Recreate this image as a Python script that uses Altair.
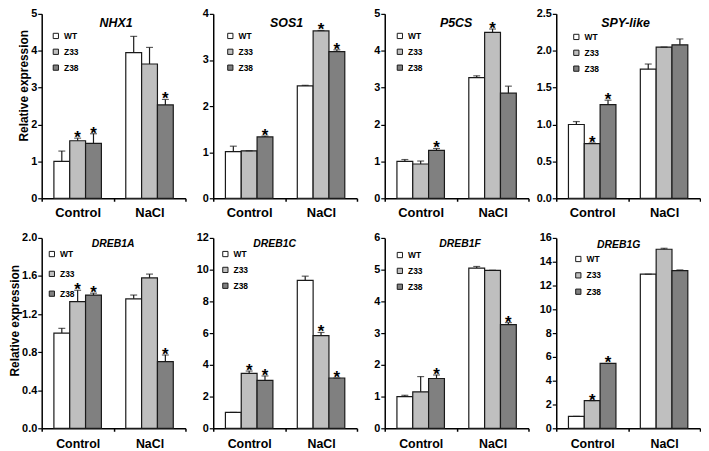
import altair as alt
import pandas as pd

FONT = "Liberation Sans"

conditions = ["Control", "NaCl"]
lines = ["WT", "Z33", "Z38"]
line_colors = ["#ffffff", "#bfbfbf", "#808080"]

# order: Control-WT, Control-Z33, Control-Z38, NaCl-WT, NaCl-Z33, NaCl-Z38
nhx1_mean = [1.00, 1.56, 1.49, 3.95, 3.64, 2.53]
nhx1_err = [0.28, 0.07, 0.26, 0.44, 0.45, 0.15]
nhx1_sig = [0, 1, 1, 0, 0, 1]
nhx1_ticks = [0, 1, 2, 3, 4, 5]

sos1_mean = [1.01, 1.03, 1.33, 2.44, 3.63, 3.18]
sos1_err = [0.12, 0.00, 0.02, 0.01, 0.01, 0.04]
sos1_sig = [0, 0, 1, 0, 1, 1]
sos1_ticks = [0, 1, 2, 3, 4]

p5cs_mean = [1.00, 0.93, 1.30, 3.27, 4.50, 2.85]
p5cs_err = [0.05, 0.08, 0.05, 0.05, 0.09, 0.19]
p5cs_sig = [0, 0, 1, 0, 1, 0]
p5cs_ticks = [0, 1, 2, 3, 4, 5]

spy_mean = [1.00, 0.74, 1.27, 1.75, 2.05, 2.08]
spy_err = [0.04, 0.01, 0.06, 0.07, 0.00, 0.08]
spy_sig = [0, 1, 1, 0, 0, 0]
spy_ticks = [0.0, 0.5, 1.0, 1.5, 2.0, 2.5]

dreb1a_mean = [1.00, 1.33, 1.40, 1.36, 1.58, 0.70]
dreb1a_err = [0.05, 0.12, 0.02, 0.04, 0.04, 0.07]
dreb1a_sig = [0, 1, 1, 0, 0, 1]
dreb1a_ticks = [0.0, 0.4, 0.8, 1.2, 1.6, 2.0]

dreb1c_mean = [1.00, 3.46, 3.02, 9.32, 5.84, 3.17]
dreb1c_err = [0.00, 0.15, 0.28, 0.27, 0.20, 0.00]
dreb1c_sig = [0, 1, 1, 0, 1, 1]
dreb1c_ticks = [0, 2, 4, 6, 8, 10, 12]

dreb1f_mean = [1.00, 1.15, 1.57, 5.05, 4.98, 3.27]
dreb1f_err = [0.04, 0.48, 0.11, 0.05, 0.00, 0.06]
dreb1f_sig = [0, 0, 1, 0, 0, 1]
dreb1f_ticks = [0, 1, 2, 3, 4, 5, 6]

dreb1g_mean = [1.00, 2.33, 5.45, 12.95, 15.05, 13.25]
dreb1g_err = [0.00, 0.00, 0.00, 0.00, 0.08, 0.06]
dreb1g_sig = [0, 1, 1, 0, 0, 0]
dreb1g_ticks = [0, 2, 4, 6, 8, 10, 12, 14, 16]

WIDTH = 145
ROW1_H = 186
ROW2_H = 192


def panel(gene, mean, err, sig, ticks, fmt, height, title_size, title_x, title_y,
          xlabel_size, xlabel_pad, leg_x, leg_y, leg_gap, ytitle=None, ytitle_y=0):
    df = pd.DataFrame({
        "condition": [c for c in conditions for _ in lines],
        "line": lines * 2,
        "mean": mean,
        "err": err,
        "sig": sig,
    })
    df["top"] = df["mean"] + df["err"]
    base = alt.Chart(df)

    x_enc = alt.X(
        "condition:N", sort=conditions,
        scale=alt.Scale(paddingInner=0, paddingOuter=0),
        axis=alt.Axis(title=None, labelAngle=0, tickBand="extent", tickSize=3,
                      labelPadding=xlabel_pad, labelFontSize=xlabel_size,
                      labelFontWeight="bold", labelFont=FONT, labelColor="black",
                      domainColor="black", tickColor="black", domainWidth=1.5,
                      tickWidth=1.5),
    )
    xo = alt.XOffset("line:N", sort=lines,
                     scale=alt.Scale(paddingInner=0, paddingOuter=0.77))
    y_kwargs = dict(values=ticks, format=fmt, tickSize=4, labelPadding=1,
                    labelFontSize=11, labelFontWeight="bold", labelFont=FONT,
                    labelColor="black", domainColor="black", tickColor="black",
                    domainWidth=1.5, tickWidth=1.2, grid=False)
    if ytitle:
        y_kwargs.update(title=ytitle, titleFont=FONT, titleFontSize=12,
                        titleFontWeight="bold", titleColor="black", titlePadding=0,
                        titleY=ytitle_y)
    else:
        y_kwargs.update(title=None)
    yscale = alt.Scale(domain=[ticks[0], ticks[-1]], nice=False)
    yaxis = alt.Axis(**y_kwargs)

    bars = base.mark_bar(stroke="#1a1a1a", strokeWidth=1.2).encode(
        x=x_enc, xOffset=xo,
        y=alt.Y("mean:Q", scale=yscale, axis=yaxis),
        fill=alt.Fill("line:N", sort=lines,
                      scale=alt.Scale(domain=lines, range=line_colors),
                      legend=alt.Legend(title=None, orient="none", legendX=leg_x,
                                        legendY=leg_y, symbolType="square",
                                        symbolSize=28, symbolStrokeColor="#1a1a1a",
                                        symbolStrokeWidth=1, labelFont=FONT,
                                        labelFontSize=8.5, labelFontWeight="bold",
                                        labelColor="black", rowPadding=leg_gap,
                                        labelOffset=4, padding=0)),
    )
    rule = base.mark_rule(color="#1a1a1a", strokeWidth=1.2).encode(
        x=x_enc, xOffset=xo,
        y=alt.Y("mean:Q", scale=yscale, axis=yaxis), y2="top:Q")
    cap = base.mark_tick(color="#1a1a1a", size=7, thickness=1.2).encode(
        x=x_enc, xOffset=xo, y=alt.Y("top:Q", scale=yscale, axis=yaxis))
    stars = base.transform_filter("datum.sig == 1").mark_text(
        text="*", font=FONT, fontSize=17, fontWeight="bold", color="black",
        baseline="alphabetic", dy=5).encode(
        x=x_enc, xOffset=xo, y=alt.Y("top:Q", scale=yscale, axis=yaxis))

    name = alt.Chart(pd.DataFrame({"gene": [gene]})).mark_text(
        font=FONT, fontStyle="italic", fontWeight="bold", fontSize=title_size,
        color="black", align="center", baseline="alphabetic").encode(
        text="gene:N", x=alt.value(title_x), y=alt.value(title_y))

    return alt.layer(bars, rule, cap, stars, name).properties(
        width=WIDTH, height=height)


panels = [
    panel("NHX1", nhx1_mean, nhx1_err, nhx1_sig, nhx1_ticks, "d", ROW1_H, 12.5, 75, 13,
          13, 5, 10, 18, 6, "Relative expression", 72),
    panel("SOS1", sos1_mean, sos1_err, sos1_sig, sos1_ticks, "d", ROW1_H, 12.5, 74, 13,
          13, 5, 13, 18, 6),
    panel("P5CS", p5cs_mean, p5cs_err, p5cs_sig, p5cs_ticks, "d", ROW1_H, 12.5, 72, 13,
          13, 5, 11, 18, 6),
    panel("SPY-like", spy_mean, spy_err, spy_sig, spy_ticks, ".1f", ROW1_H, 12.5, 70,
          13, 13, 5, 16, 19, 6),
    panel("DREB1A", dreb1a_mean, dreb1a_err, dreb1a_sig, dreb1a_ticks, ".1f", ROW2_H,
          10.5, 72, 9.5, 12.5, 6, 6, 12, 10, "Relative expression", 83),
    panel("DREB1C", dreb1c_mean, dreb1c_err, dreb1c_sig, dreb1c_ticks, "d", ROW2_H,
          10.5, 62, 9.5, 12.5, 6, 8, 12, 6),
    panel("DREB1F", dreb1f_mean, dreb1f_err, dreb1f_sig, dreb1f_ticks, "d", ROW2_H,
          10.5, 76, 9.5, 12.5, 6, 11, 13, 6),
    panel("DREB1G", dreb1g_mean, dreb1g_err, dreb1g_sig, dreb1g_ticks, "d", ROW2_H,
          10.5, 63, 10.5, 12.5, 6, 18, 17, 6.5),
]

chart = alt.concat(
    *panels, columns=4, spacing={"row": 40, "column": 28}, bounds="flush"
).resolve_scale(fill="independent", y="independent").properties(
    padding={"top": -2, "left": 0, "right": 0, "bottom": 0}, background="white"
).configure_view(stroke=None)

chart.save("out.html", embed_options={"renderer": "svg", "actions": False})
